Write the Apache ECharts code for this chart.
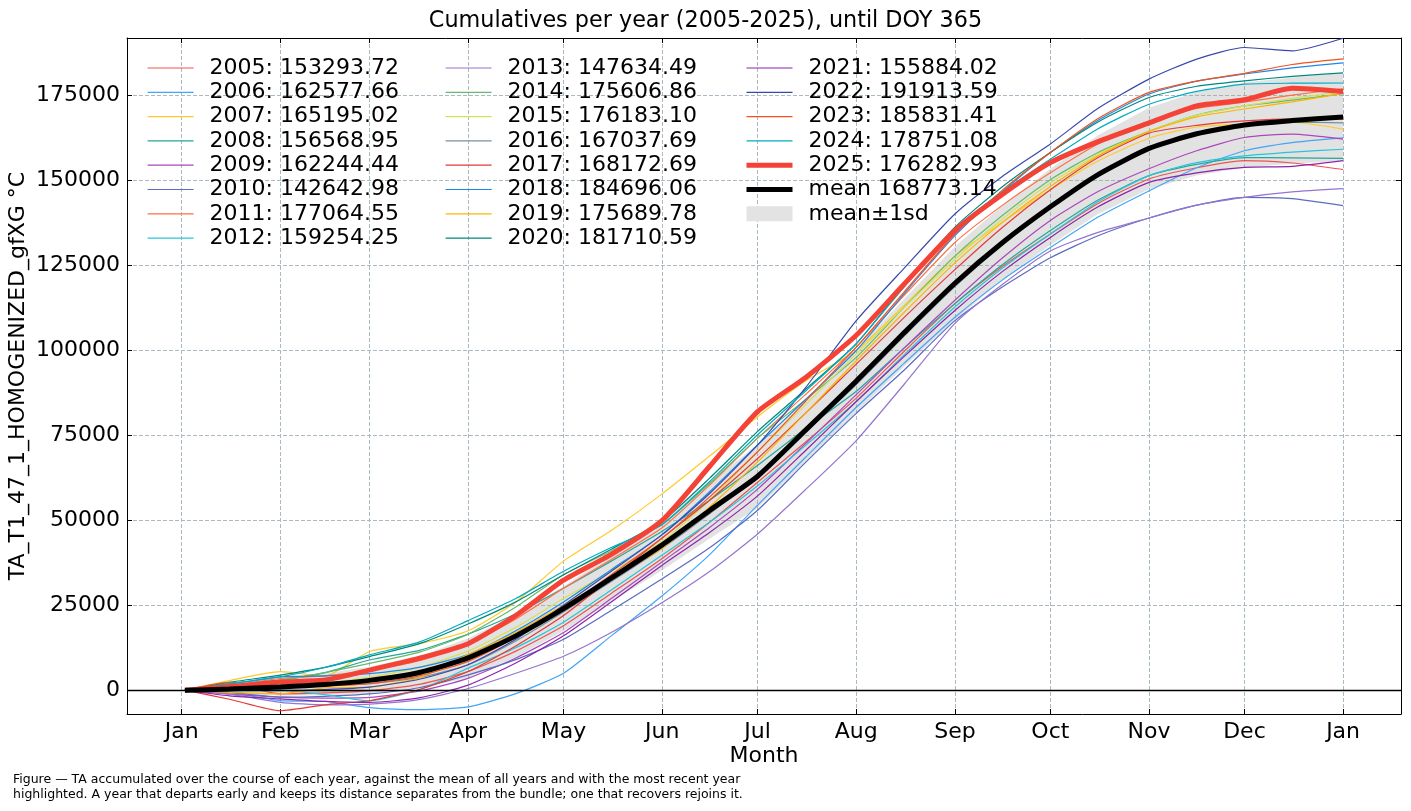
<!DOCTYPE html>
<html>
<head>
<meta charset="utf-8">
<title>Cumulatives per year</title>
<script src="https://cdn.jsdelivr.net/npm/echarts@6/dist/echarts.min.js"></script>
<style>
  html, body { margin: 0; padding: 0; background: #fff; }
  #chart { width: 1411px; height: 811px; }
</style>
</head>
<body>
<div id="chart"></div>
<script>
// Cumulative TA per year, sampled roughly every half month (day of year).
// Values read off the reference picture; the last value of each year is the
// exact total printed in the legend.

const FONT = 'DejaVu Sans';

const days = [1, 15, 31, 45, 59, 75, 90, 105, 120, 135, 151, 166, 181, 196, 212, 227, 243, 258, 273, 288, 304, 319, 334, 349, 365];

const monthTicks  = [0, 31, 59, 90, 120, 151, 181, 212, 243, 273, 304, 334, 365];
const monthLabels = ['Jan', 'Feb', 'Mar', 'Apr', 'May', 'Jun', 'Jul', 'Aug', 'Sep', 'Oct', 'Nov', 'Dec', 'Jan'];
const valueTicks  = [0, 25000, 50000, 75000, 100000, 125000, 150000, 175000];

const years = [2005, 2006, 2007, 2008, 2009, 2010, 2011, 2012, 2013, 2014, 2015, 2016, 2017, 2018, 2019, 2020, 2021, 2022, 2023, 2024, 2025];

const y2005 = [0, 1850, -1050, -800, -100, 1800, 5500, 11500, 19000, 28500, 38800, 49500, 61200, 73000, 86000, 99700, 113800, 124800, 134300, 143300, 150500, 153800, 155900, 155200, 153293.72];
const y2006 = [0, -650, -3050, -3300, -5100, -5700, -4900, -1000, 5000, 16000, 27800, 40000, 54500, 68500, 83300, 96200, 109800, 120800, 130300, 139300, 147000, 153800, 158800, 161200, 162577.66];
const y2007 = [0, 2850, 5450, 4200, 11400, 13800, 17500, 26000, 38000, 47000, 57800, 69000, 80500, 91000, 100000, 113200, 127800, 137800, 147300, 155800, 162500, 165800, 166600, 167200, 165195.02];
const y2008 = [0, 1350, 2950, 5200, 8900, 11800, 16500, 22500, 30000, 38000, 46800, 56000, 66200, 77000, 88000, 100700, 113800, 125300, 135300, 144300, 151500, 154800, 156800, 156700, 156568.95];
const y2009 = [0, -1150, -2050, -2300, -2100, -200, 3500, 9500, 17000, 27000, 37800, 48000, 59200, 72500, 87000, 100700, 114800, 127300, 138300, 146800, 153500, 158800, 162700, 163700, 162244.44];
const y2010 = [0, -650, -2050, -1800, -1100, 800, 4500, 9000, 15000, 23500, 32800, 42000, 53000, 67000, 81500, 94200, 108800, 118800, 127300, 133800, 139000, 142800, 145100, 144700, 142642.98];
const y2011 = [0, 1350, 3450, 4200, 5900, 8800, 13500, 21000, 30000, 38500, 47800, 60500, 74200, 87000, 101000, 116200, 131800, 142800, 152300, 160800, 167500, 171300, 173100, 175200, 177064.55];
const y2012 = [0, -150, -50, -1300, -3100, 300, 6500, 12500, 20000, 29500, 39800, 49500, 60200, 72000, 85000, 98700, 112800, 124300, 134300, 143800, 151500, 155300, 157300, 158400, 159254.25];
const y2013 = [0, -1150, -3550, -4300, -4100, -2700, 500, 5000, 10000, 17000, 25800, 35000, 46000, 59000, 73500, 90000, 108000, 119500, 129300, 134800, 139000, 142800, 145100, 146700, 147634.49];
const y2014 = [0, 1350, 2950, 5200, 7900, 11300, 16500, 24500, 34000, 41000, 48800, 61000, 74200, 85500, 98000, 112700, 127800, 139800, 150300, 158300, 164500, 169300, 172000, 173700, 175606.86];
const y2015 = [0, 850, 1950, 2200, 3900, 6800, 11500, 18500, 27000, 35000, 43800, 56000, 70200, 84000, 99000, 112700, 126800, 138800, 149300, 157800, 164500, 169300, 172000, 174200, 176183.10];
const y2016 = [0, 850, 1950, 1700, 1900, 3800, 7500, 14500, 23000, 32000, 41800, 52000, 63200, 76000, 90000, 104200, 118800, 131300, 142300, 151800, 159200, 163500, 166200, 167200, 167037.69];
const y2017 = [0, -2650, -6050, -4300, -3100, 300, 5500, 13000, 22000, 33000, 44800, 56000, 68200, 81500, 96000, 109700, 123800, 136300, 147300, 156800, 164000, 166300, 167600, 168200, 168172.69];
const y2018 = [0, 1850, 3950, 4200, 4900, 6800, 10500, 17500, 26000, 35500, 45800, 58500, 72200, 85500, 100000, 116700, 133800, 146800, 158300, 167800, 175500, 179300, 181400, 183200, 184696.06];
const y2019 = [0, -650, -1050, 700, 900, 3800, 10500, 17000, 25000, 33000, 41800, 54000, 67200, 81500, 97000, 111200, 125800, 137800, 148300, 157300, 164500, 168800, 171100, 173200, 175689.78];
const y2020 = [0, 2350, 4450, 6700, 9900, 13800, 19500, 26000, 34000, 41500, 49800, 62500, 76200, 88500, 102000, 119200, 136300, 148300, 158300, 167300, 174500, 177800, 179400, 180700, 181710.59];
const y2021 = [0, -1650, -2550, -3300, -3600, -2200, 1500, 8000, 16000, 26000, 36800, 46500, 57200, 70500, 85000, 98200, 111800, 123300, 133300, 142300, 149500, 152300, 153900, 154200, 155884.02];
const y2022 = [0, 350, -50, 200, 900, 3300, 7500, 15000, 25000, 35000, 45800, 58000, 72200, 89000, 108800, 124200, 140200, 151300, 160800, 171300, 179900, 185800, 189200, 188200, 191913.59];
const y2023 = [0, 2350, 950, 1200, 1900, 4300, 8500, 15500, 24000, 34000, 44800, 57000, 70200, 85000, 101000, 117200, 134300, 147300, 158300, 168300, 176000, 179300, 181600, 184200, 185831.41];
const y2024 = [0, 1850, 3950, 6700, 10400, 14300, 20500, 27000, 35000, 42000, 48800, 61500, 75200, 88000, 102000, 118700, 135800, 146800, 156300, 165300, 172500, 176300, 178400, 178700, 178751.08];
const y2025 = [0, 1000, 2400, 3000, 5900, 9500, 13700, 22000, 32400, 40000, 50000, 66000, 82000, 92000, 104500, 119500, 135300, 146000, 155300, 161500, 167000, 172000, 173800, 177200, 176282.93];

const meanValues = [0, 350, 950, 1700, 2900, 5300, 9500, 16000, 24000, 33000, 42800, 53000, 63000, 76500, 91000, 105200, 119800, 131800, 142300, 151800, 159500, 163800, 166400, 167700, 168773.14];
const sdValues   = [0, 1300, 2600, 3200, 4000, 4800, 5800, 6300, 6600, 7000, 7500, 8300, 9300, 9300, 9200, 10000, 10800, 11000, 11200, 11600, 12000, 12300, 12500, 12700, 12900];

const yearValues = [y2005, y2006, y2007, y2008, y2009, y2010, y2011, y2012, y2013, y2014, y2015, y2016, y2017, y2018, y2019, y2020, y2021, y2022, y2023, y2024, y2025];
const yearColors = ['#ef5350', '#42a5f5', '#ffca28', '#26a69a', '#ab47bc', '#5c6bc0', '#ff7043', '#26c6da',
                    '#9575cd', '#66bb6a', '#d4e157', '#78909c', '#e53935', '#1e88e5', '#ffb300', '#00897b',
                    '#8e24aa', '#3949ab', '#f4511e', '#00acc1', '#f44336'];

const captionLines = [
  'Figure \u2014 TA accumulated over the course of each year, against the mean of all years and with the most recent year',
  'highlighted. A year that departs early and keeps its distance separates from the bundle; one that recovers rejoins it.',
];

// ── helpers ────────────────────────────────────────────────────────────
const pairs = (vals) => days.map((d, i) => [d, vals[i]]);
const lastOf = (arr) => arr[arr.length - 1];
const X_MIN = -17.2, X_MAX = 383.2, Y_MIN = -7000, Y_MAX = 192000;
const BAND_NAME = 'mean\u00b11sd';
const BAND_FILL = 'rgba(160,160,160,0.3)';
const MEAN_NAME = 'mean ' + lastOf(meanValues).toFixed(2);
const THICK = 5, THIN = 1.2;

// ── series ─────────────────────────────────────────────────────────────
const series = [];

// mean ± 1 sd band as one polygon through the axis scales
series.push({
  name: BAND_NAME, type: 'custom', z: 1, silent: true,
  itemStyle: { color: '#e3e3e3' },
  data: [0],
  renderItem: (params, api) => {
    const upper = days.map((d, i) => api.coord([d, meanValues[i] + sdValues[i]]));
    const lower = days.map((d, i) => api.coord([d, meanValues[i] - sdValues[i]])).reverse();
    return { type: 'polygon', shape: { points: upper.concat(lower) }, style: { fill: BAND_FILL } };
  },
});

// zero line (axhline)
series.push({
  name: 'zero', type: 'line', symbol: 'none', silent: true, z: 2,
  lineStyle: { opacity: 0 },
  data: [[days[0], 0]],
  markLine: {
    silent: true, symbol: 'none', label: { show: false },
    lineStyle: { color: '#000', width: 1.3, type: 'solid' },
    data: [{ yAxis: 0 }],
  },
});

const yearNames = years.map((yr, i) => `${yr}: ${lastOf(yearValues[i]).toFixed(2)}`);

years.forEach((yr, i) => {
  const hi = yr === 2025;
  series.push({
    name: yearNames[i], type: 'line', smooth: 0.2, symbol: 'none', z: hi ? 4 : 3,
    lineStyle: { color: yearColors[i], width: hi ? THICK : THIN },
    itemStyle: { color: yearColors[i] },
    data: pairs(yearValues[i]),
  });
});

series.push({
  name: MEAN_NAME, type: 'line', smooth: 0.2, symbol: 'none', z: 5,
  lineStyle: { color: '#000', width: THICK },
  itemStyle: { color: '#000' },
  data: pairs(meanValues),
});

// ── axes / legend ──────────────────────────────────────────────────────
const gridLine = { show: true, lineStyle: { color: '#aabac2', width: 1, type: [4, 2] } };
const frame = { show: true, onZero: false, lineStyle: { color: '#000', width: 1 } };
const tickIn = (vals) => ({ show: true, inside: true, length: 5, customValues: vals, lineStyle: { color: '#000', width: 1 } });
const labelFont = { fontFamily: FONT, fontSize: 22, color: '#000' };

const legendItem = (name) => ({ name, lineStyle: { width: name === yearNames[20] || name === MEAN_NAME ? THICK : THIN } });

const legendBase = {
  orient: 'vertical', top: 56, padding: 0, itemWidth: 46, itemHeight: 15, itemGap: 0.3,
  selectedMode: false,
  itemStyle: { opacity: 0 },
  textStyle: { fontFamily: FONT, fontSize: 22, lineHeight: 24, color: '#000', padding: [0, 0, 0, 11] },
};

const option = {
  animation: false,
  backgroundColor: '#fff',
  title: {
    text: 'Cumulatives per year (2005-2025), until DOY 365',
    left: 'center', top: 5,
    textStyle: { fontFamily: FONT, fontSize: 22.3, fontWeight: 'normal', color: '#000' },
  },
  grid: { left: 127, right: 10, top: 38, bottom: 97, containLabel: false, outerBoundsMode: 'none' },
  legend: [
    { ...legendBase, left: 147, data: yearNames.slice(0, 8).map(legendItem) },
    { ...legendBase, left: 445, data: yearNames.slice(8, 16).map(legendItem) },
    { ...legendBase, left: 744, data: [...yearNames.slice(16).map(legendItem), legendItem(MEAN_NAME),
        { name: BAND_NAME, icon: 'rect', itemStyle: { color: '#e3e3e3', opacity: 1, borderWidth: 0 } }] },
  ],
  xAxis: [
    {
      type: 'value', min: X_MIN, max: X_MAX, position: 'bottom',
      axisLine: frame, axisTick: tickIn(monthTicks),
      axisLabel: { ...labelFont, customValues: monthTicks, margin: 7,
                   formatter: (v) => monthLabels[monthTicks.indexOf(v)] },
      splitLine: gridLine,
      name: 'Month', nameLocation: 'middle', nameGap: 31, nameMoveOverlap: false, nameTextStyle: labelFont,
    },
    {
      type: 'value', min: X_MIN, max: X_MAX, position: 'top',
      axisLine: frame, axisTick: tickIn(monthTicks),
      axisLabel: { show: false }, splitLine: { show: false },
    },
  ],
  yAxis: [
    {
      type: 'value', min: Y_MIN, max: Y_MAX, position: 'left',
      axisLine: frame, axisTick: tickIn(valueTicks),
      axisLabel: { ...labelFont, customValues: valueTicks, margin: 7, formatter: (v) => String(v) },
      splitLine: gridLine,
      name: 'TA_T1_47_1_HOMOGENIZED_gfXG \u00b0C', nameLocation: 'middle', nameGap: 98,
      nameMoveOverlap: false, nameRotate: 90, nameTextStyle: labelFont,
    },
    {
      type: 'value', min: Y_MIN, max: Y_MAX, position: 'right',
      axisLine: frame, axisTick: tickIn(valueTicks),
      axisLabel: { show: false }, splitLine: { show: false },
    },
  ],
  graphic: [{
    type: 'text', left: 13, top: 772,
    style: { text: captionLines.join('\n'), font: `12.5px "${FONT}"`, lineHeight: 15, fill: '#000' },
  }],
  series,
};

const chart = echarts.init(document.getElementById('chart'), null, { renderer: 'canvas' });
chart.setOption(option);
</script>
</body>
</html>
